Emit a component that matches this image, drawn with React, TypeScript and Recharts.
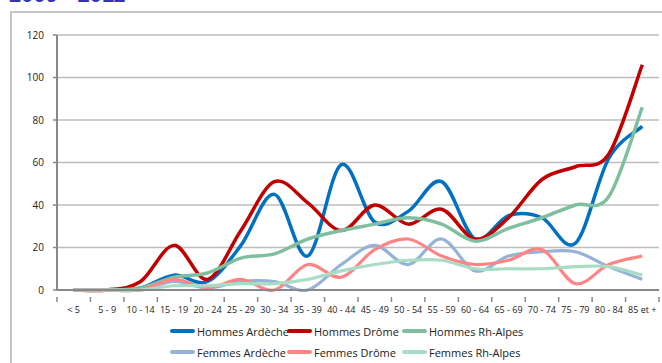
import React from 'react';
import { LineChart, Line, XAxis, YAxis, CartesianGrid, Legend } from 'recharts';

const categories = ['< 5', '5 - 9', '10 - 14', '15 - 19', '20 - 24', '25 - 29', '30 - 34', '35 - 39', '40 - 44', '45 - 49', '50 - 54', '55 - 59', '60 - 64', '65 - 69', '70 - 74', '75 - 79', '80 - 84', '85 et +'];
const hommesArdeche = [0, 0, 1, 7, 4, 21, 45, 16, 59, 32, 37, 51, 24, 35, 34, 22, 62, 77];
const hommesDrome = [0, 0, 4, 21, 5, 28, 51, 41, 28, 40, 31, 38, 24, 34, 52, 58, 64, 106];
const hommesRhAlpes = [0, 0, 1, 6, 8, 15, 17, 24, 28, 31, 34, 31, 23, 29, 34, 40, 44, 86];
const femmesArdeche = [0, 0, 0, 4, 1, 4, 4, 0, 12, 21, 12, 24, 9, 16, 18, 18, 11, 5];
const femmesDrome = [0, 0, 0, 5, 1, 5, 0, 12, 6, 19, 24, 16, 12, 14, 19, 3, 12, 16];
const femmesRhAlpes = [0, 0, 0, 2, 2, 3, 3, 5, 9, 12, 14, 14, 10, 10, 10, 11, 11, 7];
const yTicks = [0, 20, 40, 60, 80, 100, 120];

const series = [
  { key: 'hommesArdeche', name: 'Hommes Ardèche', color: '#0070c0', width: 3.5 },
  { key: 'hommesDrome', name: 'Hommes Drôme', color: '#c00000', width: 3.5 },
  { key: 'hommesRhAlpes', name: 'Hommes Rh-Alpes', color: '#7fbf9f', width: 3.5 },
  { key: 'femmesArdeche', name: 'Femmes Ardèche', color: '#95b3d7', width: 3.2 },
  { key: 'femmesDrome', name: 'Femmes Drôme', color: '#ff8585', width: 3.2 },
  { key: 'femmesRhAlpes', name: 'Femmes Rh-Alpes', color: '#a8dcc4', width: 3.2 },
];

const data = categories.map((name, i) => ({
  name,
  hommesArdeche: hommesArdeche[i],
  hommesDrome: hommesDrome[i],
  hommesRhAlpes: hommesRhAlpes[i],
  femmesArdeche: femmesArdeche[i],
  femmesDrome: femmesDrome[i],
  femmesRhAlpes: femmesRhAlpes[i],
}));

const FONT = '"Open Sans", "DejaVu Sans", sans-serif';

// excel-like smoothing (catmull-rom through every point)
const smoothCurve = (context: any) => {
  let pts: number[][] = [];
  return {
    areaStart() {},
    areaEnd() {},
    lineStart() { pts = []; },
    point(x: number, y: number) { pts.push([+x, +y]); },
    lineEnd() {
      if (!pts.length) return;
      context.moveTo(pts[0][0], pts[0][1]);
      for (let i = 0; i < pts.length - 1; i++) {
        const p0 = pts[i - 1] || pts[i];
        const p1 = pts[i];
        const p2 = pts[i + 1];
        const p3 = pts[i + 2] || p2;
        context.bezierCurveTo(
          p1[0] + (p2[0] - p0[0]) / 6, p1[1] + (p2[1] - p0[1]) / 6,
          p2[0] - (p3[0] - p1[0]) / 6, p2[1] - (p3[1] - p1[1]) / 6,
          p2[0], p2[1]
        );
      }
    },
  };
};

const CategoryTick = (props: any) => {
  const { x, y, payload, index } = props;
  const half = payload.offset || 16.7;
  return (
    <g>
      <line x1={x - half} x2={x - half} y1={y - 1} y2={y + 4} stroke="#888" strokeWidth={1.5} />
      {index === categories.length - 1 && (
        <line x1={x + half} x2={x + half} y1={y - 1} y2={y + 4} stroke="#888" strokeWidth={1.5} />
      )}
      <text x={x} y={y + 15} textAnchor="middle" fontSize={9} fill="#222" fontFamily={FONT}>
        {payload.value}
      </text>
    </g>
  );
};

const legendCols = [170, 287, 402];

const LegendBox = () => (
  <div style={{ position: 'relative', width: 662, height: 44, fontFamily: FONT, fontSize: 11, color: '#222' }}>
    {series.map((s, i) => (
      <div
        key={s.key}
        style={{
          position: 'absolute',
          left: legendCols[i % 3],
          top: i < 3 ? 3 : 24,
          display: 'flex',
          alignItems: 'center',
          whiteSpace: 'nowrap',
          height: 16,
        }}
      >
        <span style={{ display: 'inline-block', flexShrink: 0, width: 25, height: 4, background: s.color, borderRadius: 2, marginRight: 2 }} />
        {s.name}
      </div>
    ))}
  </div>
);

export default function App() {
  return (
    <div style={{ position: 'absolute', left: 0, top: 0, width: 662, height: 363, overflow: 'hidden', background: '#fff' }}>
      <div
        style={{
          position: 'absolute', left: 9, top: -18, fontFamily: '"Liberation Sans", Arial, sans-serif',
          fontWeight: 'bold', fontSize: 22, lineHeight: '25px', color: '#3535b0', whiteSpace: 'nowrap',
        }}
      >
        2009 - 2011
      </div>
      <div
        style={{
          position: 'absolute', left: 10, top: 11, width: 700, height: 400,
          border: '2px solid #c6c6c6', boxSizing: 'border-box',
        }}
      />
      <div style={{ position: 'absolute', left: 0, top: 0 }}>
        <LineChart width={662} height={363} data={data} margin={{ top: 35, right: 3, bottom: 53, left: 0 }}>
          <CartesianGrid vertical={false} stroke="#bdbdbd" strokeWidth={1.5} />
          <XAxis
            dataKey="name"
            scale="band"
            interval={0}
            height={20}
            tickLine={false}
            axisLine={{ stroke: '#888', strokeWidth: 2 }}
            tick={<CategoryTick />}
          />
          <YAxis
            domain={[0, 120]}
            ticks={yTicks}
            width={57}
            tickSize={4}
            tickMargin={9}
            axisLine={{ stroke: '#888', strokeWidth: 2 }}
            tickLine={{ stroke: '#888', strokeWidth: 1.5 }}
            tick={{ fontSize: 10, fill: '#222', fontFamily: FONT }}
          />
          <Legend
            verticalAlign="middle"
            align="center"
            wrapperStyle={{ top: 320, left: 0, width: 662 }}
            content={<LegendBox />}
          />
          {series.map((s) => (
            <Line
              key={s.key}
              dataKey={s.key}
              name={s.name}
              type={smoothCurve as any}
              stroke={s.color}
              strokeWidth={s.width}
              dot={false}
              activeDot={false}
              isAnimationActive={false}
            />
          ))}
        </LineChart>
      </div>
    </div>
  );
}
